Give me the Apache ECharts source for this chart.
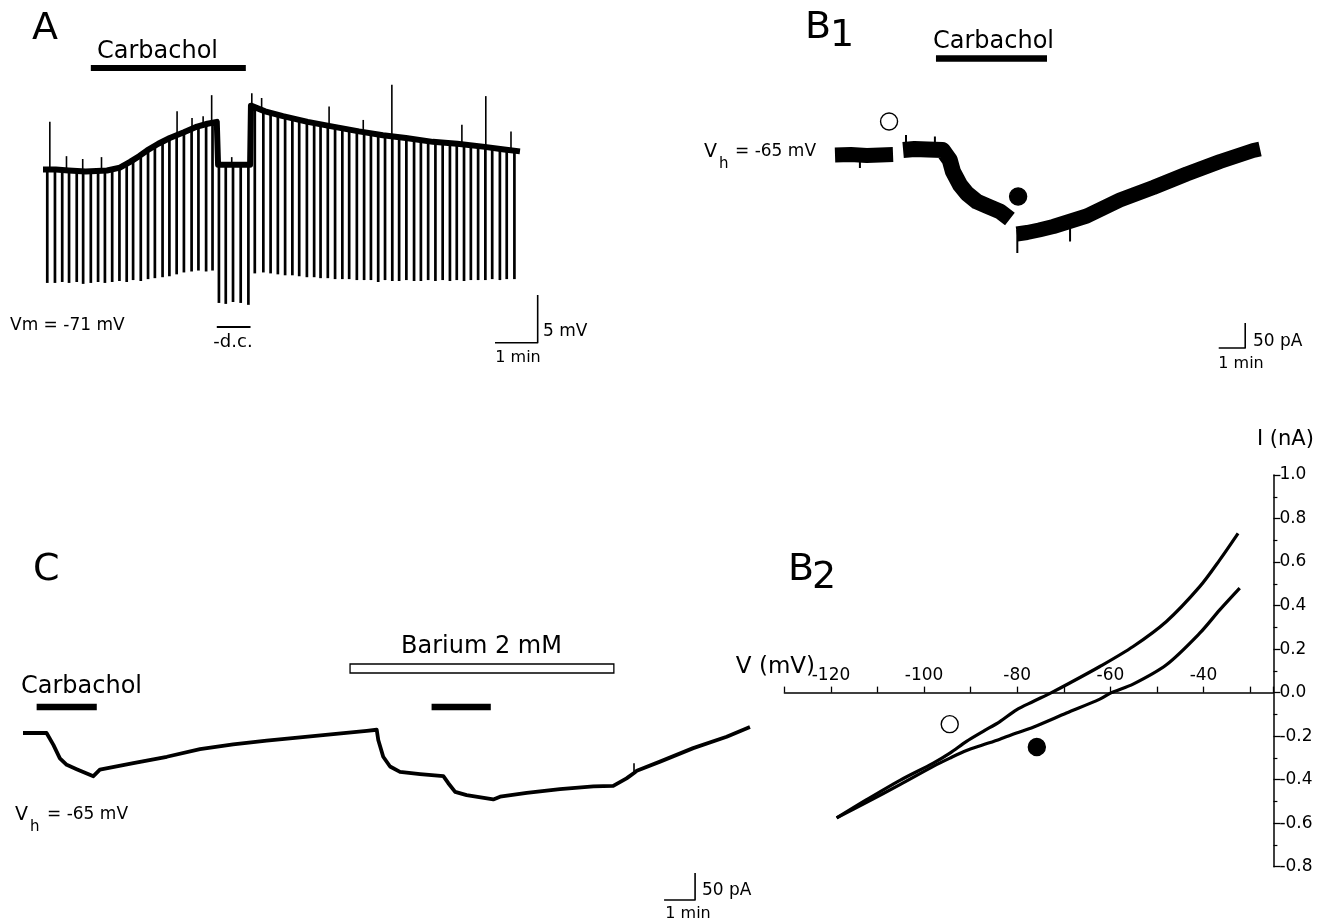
<!DOCTYPE html>
<html><head><meta charset="utf-8">
<script src="https://cdn.jsdelivr.net/npm/echarts@6/dist/echarts.min.js"></script>
<style>html,body{margin:0;padding:0;background:#fff}#c{width:1331px;height:924px}</style>
</head><body><div id="c"></div><script>
// ---------- Panel A : current-clamp trace (time in min, Vm in mV) ----------
const aBaseline = [[0,-71.0],[0.3,-71.0],[0.6,-71.1],[1.0,-71.2],[1.5,-71.1],[1.8,-70.8],[2.04,-70.2],[2.25,-69.6],[2.44,-69.0],[2.7,-68.3],[2.97,-67.7],[3.3,-67.1],[3.61,-66.5],[3.85,-66.2],[4.07,-66.0],[4.10,-70.5],[4.85,-70.5],[4.87,-64.3],[5.2,-64.9],[5.62,-65.4],[6.2,-66.0],[6.79,-66.5],[7.4,-67.0],[7.96,-67.4],[8.5,-67.7],[9.13,-68.1],[9.7,-68.3],[10.3,-68.6],[10.8,-68.9],[11.17,-69.1]];
// hyperpolarizing pulses: [time, top mV, bottom mV]
const aPulses = [[0.10,-71.0,-82.9],[0.28,-71.0,-82.9],[0.45,-71.0,-82.8],[0.61,-71.0,-82.9],[0.79,-71.1,-82.8],[0.94,-71.1,-83.0],[1.12,-71.1,-82.9],[1.29,-71.1,-82.8],[1.45,-71.1,-82.9],[1.62,-70.9,-82.8],[1.79,-70.7,-82.7],[1.96,-70.4,-82.8],[2.11,-70.0,-82.6],[2.29,-69.5,-82.7],[2.46,-69.0,-82.5],[2.62,-68.5,-82.4],[2.80,-68.1,-82.3],[2.96,-67.7,-82.2],[3.13,-67.4,-82.0],[3.30,-67.1,-81.8],[3.48,-66.8,-81.7],[3.64,-66.5,-81.6],[3.82,-66.2,-81.7],[3.97,-66.0,-81.6],
 [4.12,-70.5,-85.0],[4.28,-70.5,-85.1],[4.45,-70.5,-84.9],[4.63,-70.5,-85.0],[4.81,-70.5,-85.2],
 [4.96,-64.6,-81.9],[5.16,-64.9,-81.8],[5.33,-65.1,-81.9],[5.50,-65.3,-82.0],[5.67,-65.5,-82.1],[5.84,-65.7,-82.1],[6.00,-65.9,-82.2],[6.18,-66.0,-82.3],[6.35,-66.2,-82.3],[6.50,-66.3,-82.4],[6.67,-66.4,-82.4],[6.84,-66.5,-82.5],[7.01,-66.7,-82.5],[7.17,-66.8,-82.5],[7.35,-66.9,-82.6],[7.52,-67.1,-82.6],[7.68,-67.2,-82.6],[7.85,-67.3,-82.8],[8.01,-67.4,-82.6],[8.18,-67.5,-82.7],[8.34,-67.6,-82.7],[8.51,-67.7,-82.6],[8.69,-67.8,-82.7],[8.85,-67.9,-82.7],[9.02,-68.0,-82.6],[9.19,-68.1,-82.7],[9.36,-68.2,-82.6],[9.53,-68.2,-82.7],[9.69,-68.3,-82.6],[9.86,-68.4,-82.7],[10.02,-68.5,-82.6],[10.19,-68.5,-82.6],[10.36,-68.6,-82.6],[10.52,-68.7,-82.5],[10.70,-68.8,-82.6],[10.86,-68.9,-82.5],[11.04,-69.0,-82.5]];
// spontaneous depolarizing spikes: [time, base mV, top mV]
const aSpikes = [[0.16,-71.0,-66.0],[0.55,-71.0,-69.6],[0.93,-71.1,-69.9],[1.37,-71.1,-69.7],[3.14,-67.4,-64.9],[3.49,-66.8,-65.6],[3.75,-66.3,-65.4],[3.95,-66.0,-63.2],[4.42,-70.5,-69.7],[4.89,-64.4,-63.0],[5.12,-64.8,-63.5],[6.70,-66.4,-64.4],[7.50,-67.0,-65.8],[8.17,-67.5,-62.1],[9.81,-68.3,-66.3],[10.37,-68.6,-63.3],[10.96,-69.0,-67.0]];
const aCarbachol = [[1.12,4.75]];
const aDC = [[4.07,4.86]];
const aScale = [[10.585,-89.17],[11.585,-89.17],[11.585,-84.17]]; // 1 min, 5 mV

// ---------- Panel B1 : voltage clamp (time in min, current change in pA) ----------
const b1Seg1 = [[0,0],[0.6,1],[1.2,-1],[1.7,0],[2.19,1]];
const b1Seg2 = [[2.57,10],[3.0,12],[3.5,11],[4.06,10],[4.33,-10],[4.45,-33],[4.72,-60],[4.98,-77],[5.35,-93],[5.74,-102],[6.23,-113],[6.60,-128]];
const b1Seg3 = [[6.86,-158],[7.25,-155],[7.7,-150],[8.24,-143],[9.50,-122],[10.75,-90],[12.01,-65],[13.27,-38],[14.53,-13],[15.78,9],[16.04,12]];
const b1Spikes = [[0.94,0,-26],[2.68,10,40],[3.77,10,37],[6.88,-150,-196],[8.87,-140,-173]];
const b1Carbachol = [[3.81,8.00]];
const b1OpenMark = [[2.04,67]];
const b1FilledMark = [[6.91,-83]];
const b1Scale = [[14.48,-386],[15.48,-386],[15.48,-336]]; // 1 min, 50 pA

// ---------- Panel C : voltage clamp with barium (time in min, pA) ----------
const cTrace = [[0,0],[0.76,0],[0.98,-22],[1.19,-47],[1.41,-59],[1.73,-67],[2.27,-80],[2.48,-68],[3.56,-56],[4.64,-44],[5.71,-30],[6.78,-21],[7.86,-14],[8.94,-8],[10.01,-2],[11.09,4],[11.41,6],[11.46,-13],[11.62,-44],[11.84,-62],[12.16,-72],[12.81,-76],[13.56,-80],[13.72,-93],[13.94,-109],[14.31,-115],[15.17,-123],[15.39,-118],[16.25,-111],[17.32,-104],[18.40,-99],[19.04,-98],[19.47,-84],[19.71,-74],[19.80,-70],[20.55,-53],[21.62,-28],[22.70,-7],[23.45,11]];
const cSpikes = [[19.71,-74,-56]];
const cCarbachol = [[0.44,2.38],[13.18,15.09]];
const cBarium = [[10.55,19.06]];
const cScale = [[20.68,-309.3],[21.68,-309.3],[21.68,-259.3]]; // 1 min, 50 pA

// ---------- Panel B2 : I-V relations (mV, nA) ----------
const ivControl = [[-118.78,-0.576],[-112.35,-0.492],[-105.19,-0.403],[-98.04,-0.324],[-94.46,-0.278],[-90.89,-0.224],[-87.31,-0.178],[-83.73,-0.133],[-80.16,-0.079],[-76.58,-0.041],[-72.65,0.0],[-69.43,0.036],[-62.27,0.120],[-55.12,0.212],[-47.97,0.327],[-40.82,0.487],[-36.52,0.610],[-32.59,0.732]];
const ivCarbachol = [[-118.78,-0.576],[-112.35,-0.504],[-105.19,-0.423],[-98.04,-0.339],[-94.46,-0.301],[-90.89,-0.266],[-87.31,-0.240],[-83.73,-0.214],[-80.16,-0.186],[-76.58,-0.159],[-69.43,-0.094],[-62.27,-0.030],[-59.77,0.0],[-55.12,0.039],[-47.97,0.128],[-40.82,0.273],[-36.52,0.380],[-32.23,0.480]];
const ivOpenMark = [[-94.5,-0.145]];
const ivFilledMark = [[-75.8,-0.25]];
const ivXTicks = [-120,-100,-80,-60,-40];

const FONT = 'DejaVu Sans';
function txt(text, x, y, size, align) {
  return {type:'text', x:x, y:y, z:10, silent:true,
    style:{text:text, fontSize:size, fontFamily:FONT, fill:'#000',
      align:align||'left', verticalAlign:'middle', textAlign:align||'left', textVerticalAlign:'middle'}};
}
function lineS(g, data, w, extra) {
  return Object.assign({type:'line', xAxisIndex:g, yAxisIndex:g, data:data, symbol:'none', showSymbol:false,
    silent:true, clip:false, animation:false, lineStyle:{color:'#000', width:w, cap:'butt', join:'round'}}, extra||{});
}
function segS(g, data, w) {
  return {type:'custom', xAxisIndex:g, yAxisIndex:g, data:data, silent:true, clip:false, animation:false,
    encode:{x:0, y:[1,2]},
    renderItem:function(p, api){
      var a = api.coord([api.value(0), api.value(1)]), b = api.coord([api.value(0), api.value(2)]);
      return {type:'line', shape:{x1:a[0], y1:a[1], x2:b[0], y2:b[1]}, style:{stroke:'#000', lineWidth:w}};
    }};
}
function barS(g, data, yPx, h, open) {
  return {type:'custom', xAxisIndex:g, yAxisIndex:g, data:data, silent:true, clip:false, animation:false,
    encode:{x:[0,1]},
    renderItem:function(p, api){
      var x0 = api.coord([api.value(0), 0])[0], x1 = api.coord([api.value(1), 0])[0];
      return {type:'rect', shape:{x:x0, y:yPx - h/2, width:x1 - x0, height:h},
        style: open ? {fill:'#fff', stroke:'#000', lineWidth:1.3} : {fill:'#000'}};
    }};
}
function markS(g, data, filled) {
  return {type:'scatter', xAxisIndex:g, yAxisIndex:g, data:data, symbol:'circle', symbolSize:17, silent:true,
    animation:false, clip:false, itemStyle:{color: filled ? '#000' : '#fff', borderColor:'#000', borderWidth:1.4, opacity:1}};
}
function hidAxis(g, min, max) { return {type:'value', gridIndex:g, min:min, max:max, show:false}; }

// B2 grid geometry: the V axis is drawn where I = 0
const IV_TOP = 475, IV_H = 391.7, I_MIN = -0.8, I_MAX = 1.0;
const zeroOffset = -(IV_H * (0 - I_MIN) / (I_MAX - I_MIN));

const chart = echarts.init(document.getElementById('c'), null, {renderer:'canvas'});
chart.setOption({
  backgroundColor:'#fff',
  animation:false,
  textStyle:{fontFamily:FONT, color:'#000'},
  grid:[
    {left:43, top:17, width:512.4, height:333.6, outerBoundsMode:'none'},
    {left:835, top:95, width:437.25, height:270, outerBoundsMode:'none'},
    {left:23, top:625, width:744, height:291.6, outerBoundsMode:'none'},
    {left:784.4, top:IV_TOP, width:489, height:IV_H, outerBoundsMode:'none'}
  ],
  xAxis:[
    hidAxis(0, 0, 12), hidAxis(1, 0, 16.5), hidAxis(2, 0, 24),
    {type:'value', gridIndex:3, min:-130, max:-25, interval:10, position:'bottom', offset:zeroOffset,
      axisLine:{show:true, onZero:false, lineStyle:{color:'#000', width:1.5}},
      axisTick:{show:true, inside:true, length:6, lineStyle:{color:'#000', width:1.3}},
      axisLabel:{inside:true, margin:9, color:'#000', fontSize:17, fontFamily:FONT,
        formatter:function(v){ return ivXTicks.indexOf(Math.round(v)) >= 0 ? String(Math.round(v)) : ''; }},
      splitLine:{show:false}, minorTick:{show:false}}
  ],
  yAxis:[
    hidAxis(0, -90, -55), hidAxis(1, -420, 120), hidAxis(2, -340, 200),
    {type:'value', gridIndex:3, min:I_MIN, max:I_MAX, interval:0.2, position:'right',
      axisLine:{show:true, onZero:false, lineStyle:{color:'#000', width:1.5}},
      axisTick:{show:true, inside:false, length:7, lineStyle:{color:'#000', width:1.3}},
      minorTick:{show:true, splitNumber:2, length:4, lineStyle:{color:'#000', width:1.2}},
      axisLabel:{margin:6, color:'#000', fontSize:17, fontFamily:FONT,
        formatter:function(v){ return (Math.abs(v) < 1e-9 ? 0 : v).toFixed(1); }},
      splitLine:{show:false}}
  ],
  series:[
    // A
    lineS(0, aBaseline, 6),
    segS(0, aPulses, 2.7),
    segS(0, aSpikes, 1.6),
    barS(0, aCarbachol, 68, 6, false),
    barS(0, aDC, 327, 2, false),
    lineS(0, aScale, 1.6),
    // B1
    lineS(1, b1Seg1, 15),
    lineS(1, b1Seg2, 16),
    lineS(1, b1Seg3, 15),
    segS(1, b1Spikes, 2),
    barS(1, b1Carbachol, 58.5, 6.5, false),
    markS(1, b1OpenMark, false),
    markS(1, b1FilledMark, true),
    lineS(1, b1Scale, 1.6),
    // C
    lineS(2, cTrace, 3.8),
    segS(2, cSpikes, 1.6),
    barS(2, cCarbachol, 707, 6.7, false),
    barS(2, cBarium, 668.5, 9, true),
    lineS(2, cScale, 1.6),
    // B2
    lineS(3, ivControl, 3.2, {smooth:0.3}),
    lineS(3, ivCarbachol, 3.2, {smooth:0.3}),
    markS(3, ivOpenMark, false),
    markS(3, ivFilledMark, true)
  ],
  graphic:{elements:[
    txt('A', 32, 29, 38),
    txt('Carbachol', 97, 52, 24),
    txt('Vm = -71 mV', 10, 326, 17),
    txt('-d.c.', 233, 342, 18, 'center'),
    txt('5 mV', 543, 332, 17),
    txt('1 min', 518, 358, 16, 'center'),
    txt('B', 805, 28, 38),
    txt('1', 830, 36, 38),
    txt('Carbachol', 933, 42, 24),
    txt('V', 704, 152, 19),
    txt('h', 719, 164, 15),
    txt('= -65 mV', 735, 152, 17),
    txt('50 pA', 1253, 342, 17),
    txt('1 min', 1241, 364, 16, 'center'),
    txt('C', 33, 570, 38),
    txt('Carbachol', 21, 687, 24),
    txt('Barium 2 mM', 401, 647, 24),
    txt('V', 15, 815, 19),
    txt('h', 30, 827, 15),
    txt('= -65 mV', 47, 815, 17),
    txt('50 pA', 702, 891, 17),
    txt('1 min', 688, 914, 16, 'center'),
    txt('B', 788, 570, 38),
    txt('2', 812, 578, 38),
    txt('V (mV)', 815, 667, 23, 'right'),
    txt('I (nA)', 1257, 440, 21)
  ]}
});
</script></body></html>
